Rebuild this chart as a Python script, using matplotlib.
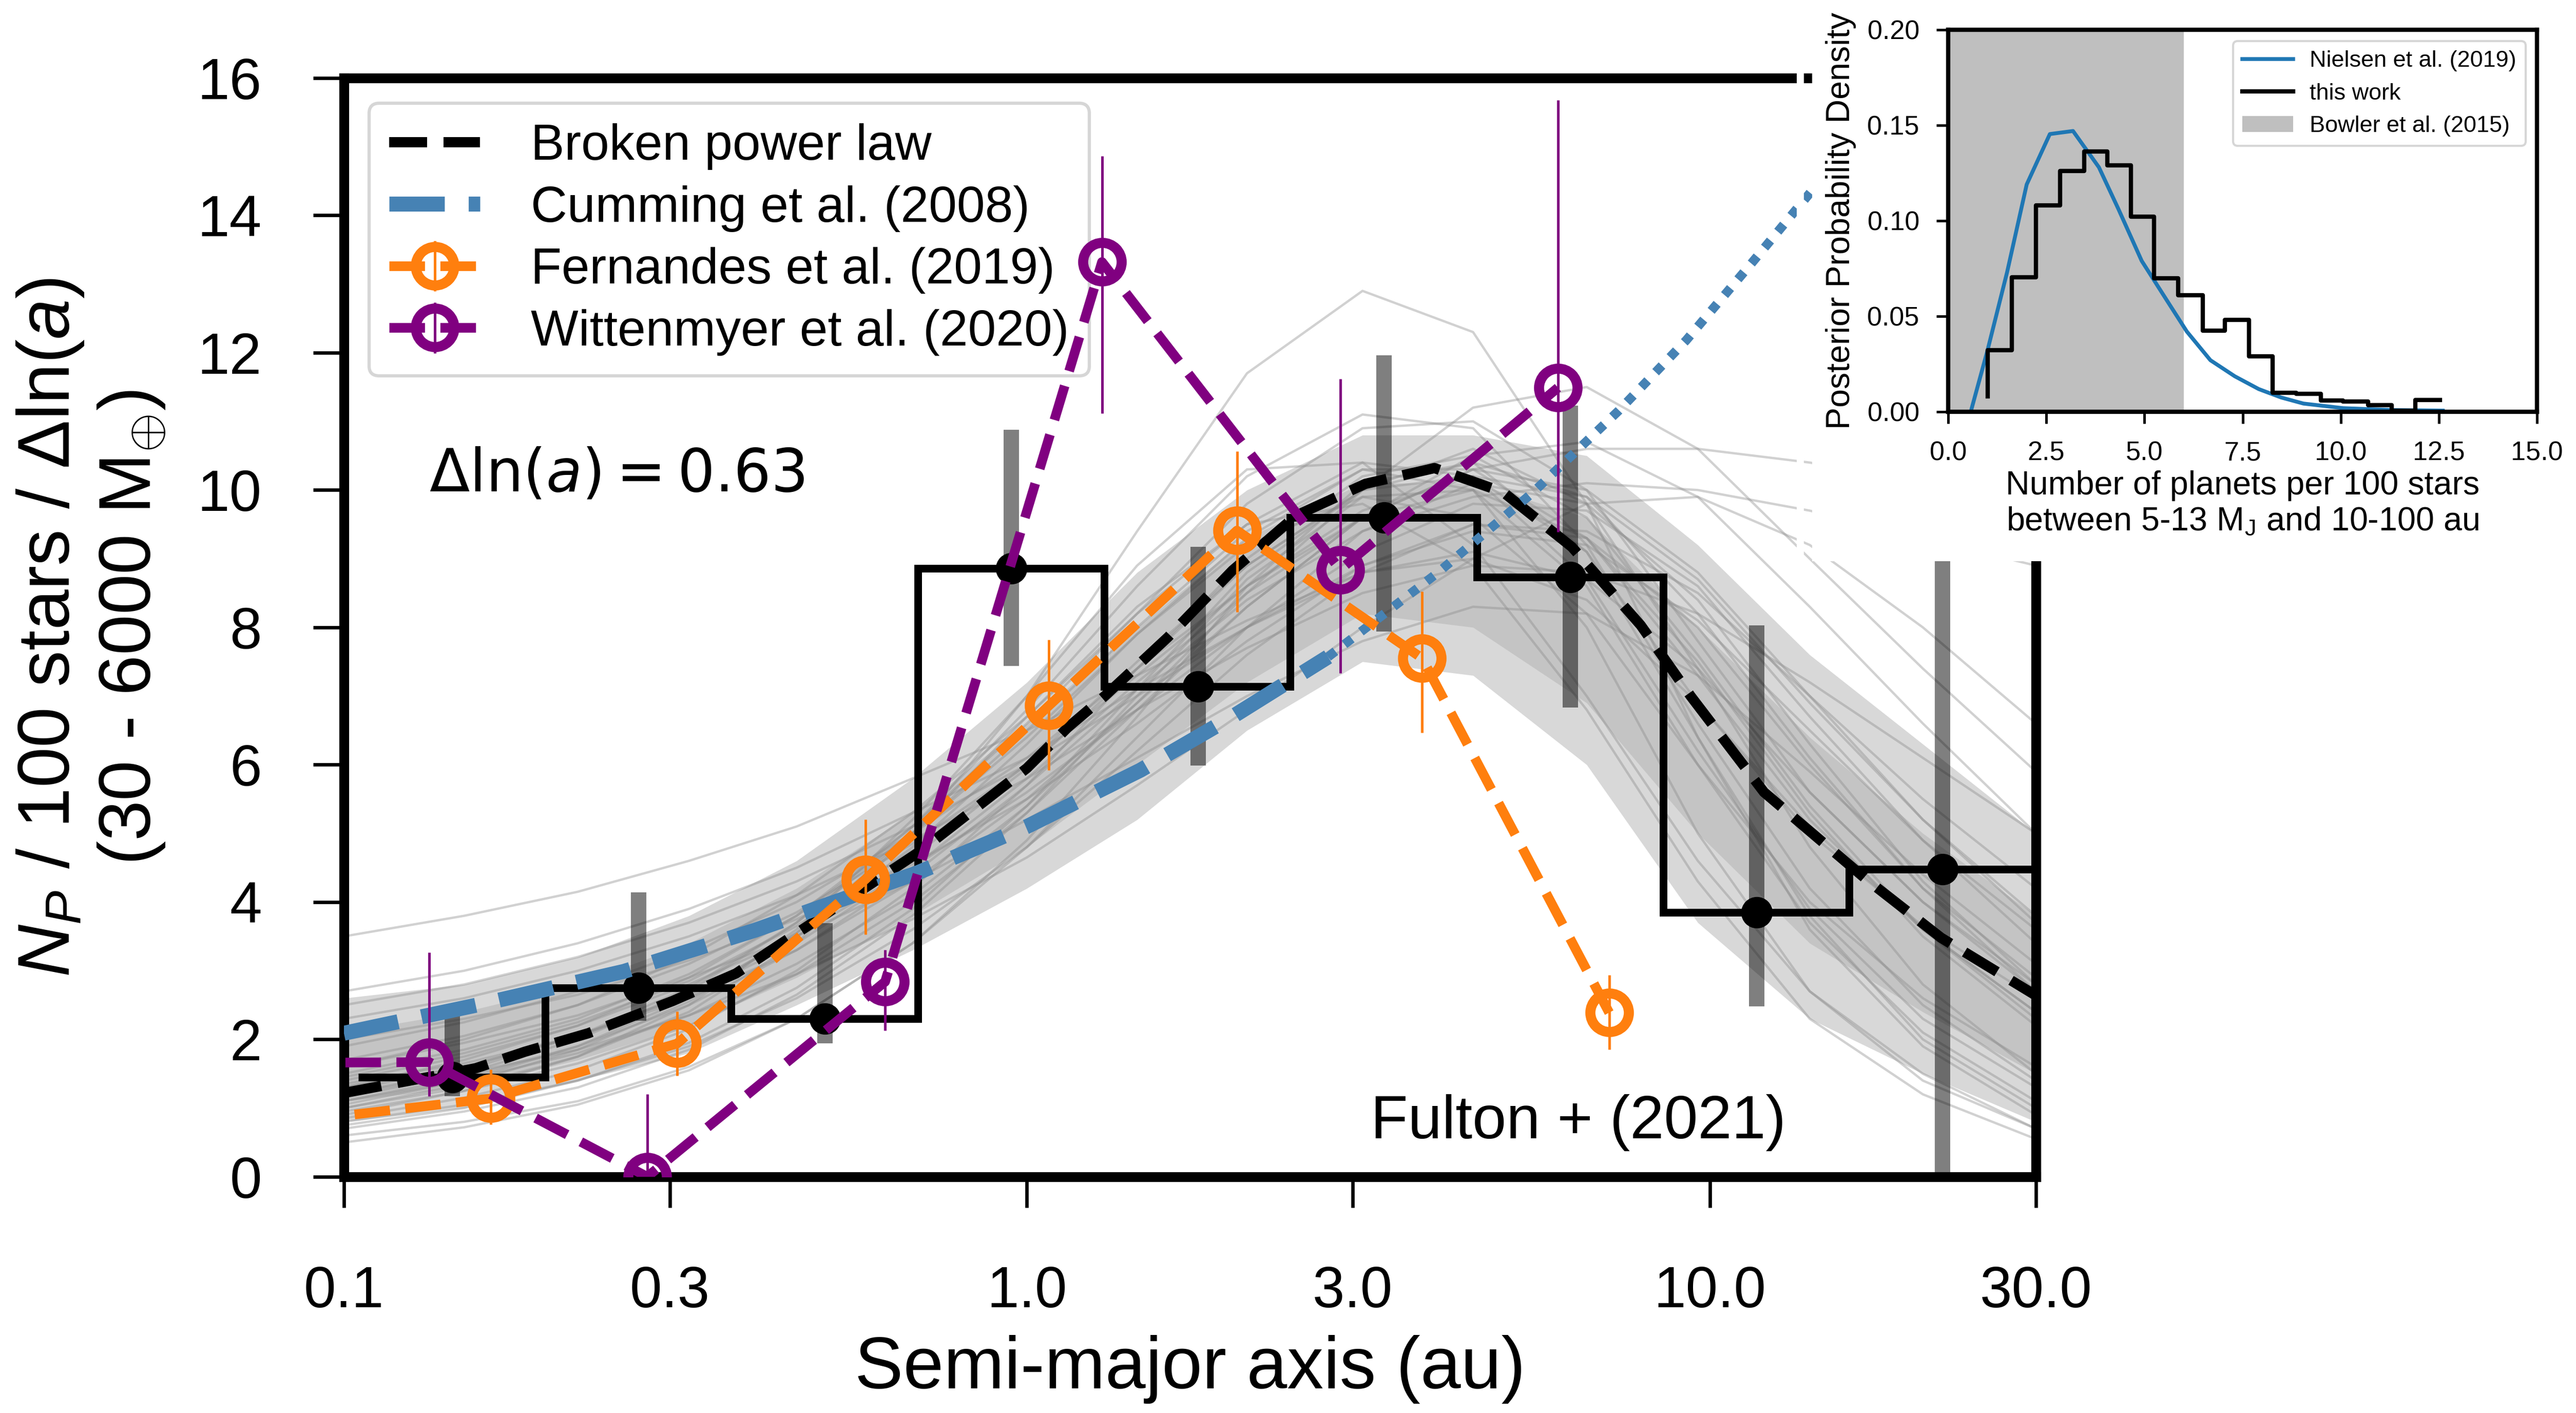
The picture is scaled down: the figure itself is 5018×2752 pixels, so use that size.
import numpy as np
import matplotlib
matplotlib.use('Agg')
import matplotlib.pyplot as plt
import matplotlib.ticker as ticker
from matplotlib.patches import Rectangle

plt.rcParams['font.family'] = ['Liberation Sans', 'DejaVu Sans']
plt.rcParams['mathtext.fontset'] = 'custom'
plt.rcParams['mathtext.rm'] = 'Liberation Sans'
plt.rcParams['mathtext.it'] = 'Liberation Sans:italic'
plt.rcParams['mathtext.bf'] = 'Liberation Sans:bold'

# this work (Fulton+ 2021), binned occurrence
bin_edges = [0.105, 0.197, 0.369, 0.692, 1.297, 2.43, 4.56, 8.55, 16.0, 30.0]
bin_mid = [0.144, 0.270, 0.506, 0.949, 1.78, 3.33, 6.25, 11.7, 21.9]
rate = [1.45, 2.75, 2.30, 8.86, 7.14, 9.60, 8.73, 3.85, 4.48]
rate_lo = [1.17, 2.27, 1.94, 7.44, 5.99, 7.94, 6.83, 2.48, 0.0]
rate_hi = [2.47, 4.14, 3.69, 10.88, 9.17, 11.96, 11.23, 8.03, 12.0]

# broken power law (median model)
bpl_x = [0.1, 0.156, 0.184, 0.228, 0.303, 0.375, 0.496, 0.7, 1.0, 1.147, 1.3, 1.61, 2.0,
         2.48, 3.13, 3.95, 4.98, 6.28, 7.92, 9.37, 12.0, 16.9, 21.8, 30.0]
bpl_y = [1.22, 1.58, 1.82, 2.09, 2.56, 2.96, 3.76, 4.75, 5.95, 6.54, 7.0, 7.86, 8.83,
         9.63, 10.09, 10.32, 9.97, 9.17, 8.03, 7.0, 5.6, 4.34, 3.48, 2.64]

# posterior draws of the model, sampled on a common grid
draw_x = [0.1, 0.15, 0.22, 0.32, 0.46, 0.68, 1.0, 1.45, 2.1, 3.1, 4.5, 6.6, 9.6, 14, 20.5, 30]
draw_curves = [
    [1.30, 1.70, 2.20, 2.90, 3.80, 5.10, 6.60, 8.20, 9.80, 10.9, 11.0, 10.0, 7.80, 5.60, 4.00, 2.80],
    [0.80, 1.05, 1.40, 1.90, 2.60, 3.60, 4.80, 6.20, 7.60, 8.80, 9.50, 9.30, 8.00, 6.00, 4.20, 2.90],
    [1.10, 1.45, 1.90, 2.50, 3.30, 4.40, 5.70, 7.10, 8.40, 9.40, 9.90, 10.1, 10.0, 9.70, 9.30, 8.90],
    [1.00, 1.30, 1.75, 2.40, 3.40, 5.00, 7.00, 9.40, 11.7, 12.9, 12.3, 9.80, 6.40, 3.60, 1.90, 0.90],
    [3.50, 3.80, 4.15, 4.60, 5.10, 5.80, 6.50, 7.30, 8.10, 8.80, 9.10, 8.70, 7.40, 5.60, 4.00, 2.70],
    [2.70, 3.00, 3.40, 3.90, 4.50, 5.30, 6.10, 7.10, 8.00, 8.80, 9.00, 8.40, 6.90, 5.10, 3.60, 2.40],
    [0.60, 0.80, 1.10, 1.60, 2.30, 3.40, 4.90, 6.70, 8.60, 10.1, 10.4, 9.10, 6.40, 3.80, 2.00, 1.00],
    [1.40, 1.75, 2.20, 2.80, 3.50, 4.50, 5.60, 6.80, 8.00, 9.10, 9.80, 9.70, 8.60, 6.70, 4.90, 3.40],
    [1.60, 1.95, 2.35, 2.90, 3.50, 4.30, 5.20, 6.10, 7.00, 7.80, 8.30, 8.20, 7.30, 5.90, 4.40, 3.10],
    [0.90, 1.25, 1.75, 2.50, 3.60, 5.20, 7.00, 8.90, 10.3, 10.4, 9.20, 7.00, 4.60, 2.70, 1.50, 0.70],
    [1.20, 1.50, 1.85, 2.35, 2.95, 3.75, 4.65, 5.70, 6.80, 8.00, 9.00, 9.80, 9.90, 9.20, 8.00, 6.60],
    [0.50, 0.72, 1.05, 1.55, 2.30, 3.40, 4.80, 6.40, 8.00, 9.40, 10.1, 9.80, 8.40, 6.30, 4.30, 2.80],
    [1.90, 2.25, 2.70, 3.30, 4.00, 5.00, 6.10, 7.40, 8.60, 9.60, 10.0, 9.30, 7.50, 5.30, 3.50, 2.20],
    [1.30, 1.60, 2.05, 2.65, 3.40, 4.50, 5.80, 7.20, 8.50, 9.60, 10.3, 10.6, 10.6, 10.4, 10.1, 9.80],
    [1.00, 1.35, 1.85, 2.55, 3.55, 5.00, 6.70, 8.30, 9.50, 9.80, 8.90, 6.80, 4.30, 2.30, 1.20, 0.55],
    [2.30, 2.60, 3.00, 3.50, 4.10, 4.90, 5.80, 6.80, 7.70, 8.50, 8.90, 8.80, 8.20, 7.20, 6.10, 5.00],
    [1.10, 1.40, 1.80, 2.35, 3.10, 4.10, 5.40, 6.90, 8.50, 10.0, 11.2, 11.5, 10.6, 9.00, 7.40, 5.90],
    [1.25, 1.60, 2.05, 2.65, 3.50, 4.65, 5.95, 7.40, 8.90, 10.0, 10.2, 9.10, 6.90, 5.00, 3.65, 2.60],
    [0.70, 0.95, 1.30, 1.85, 2.65, 3.80, 5.30, 7.00, 8.70, 9.90, 10.0, 8.60, 6.00, 3.70, 2.10, 1.10],
    [1.50, 1.85, 2.30, 2.95, 3.80, 5.00, 6.40, 7.90, 9.30, 10.3, 10.3, 9.30, 7.30, 5.20, 3.60, 2.40],
    [2.00, 2.30, 2.65, 3.15, 3.75, 4.55, 5.50, 6.60, 7.80, 8.90, 9.50, 9.40, 8.50, 7.00, 5.50, 4.20],
    [1.05, 1.40, 1.90, 2.60, 3.55, 4.80, 6.30, 7.90, 9.20, 9.90, 9.60, 8.20, 6.00, 4.00, 2.60, 1.60],
    [1.35, 1.65, 2.05, 2.60, 3.30, 4.30, 5.50, 6.90, 8.30, 9.60, 10.5, 10.7, 9.90, 8.30, 6.60, 5.00],
    [0.85, 1.15, 1.55, 2.15, 3.00, 4.20, 5.70, 7.40, 9.00, 10.2, 10.5, 9.60, 7.60, 5.40, 3.60, 2.30],
    [1.70, 2.05, 2.50, 3.10, 3.85, 4.85, 6.00, 7.30, 8.60, 9.70, 10.2, 9.90, 8.70, 6.90, 5.20, 3.80],
    [1.15, 1.50, 2.00, 2.70, 3.70, 5.10, 6.80, 8.60, 10.2, 11.1, 10.9, 9.20, 6.60, 4.20, 2.50, 1.40],
    [2.50, 2.80, 3.20, 3.70, 4.30, 5.10, 6.00, 7.00, 8.00, 8.90, 9.40, 9.20, 8.10, 6.50, 4.90, 3.60],
    [0.95, 1.25, 1.65, 2.20, 2.95, 4.00, 5.30, 6.80, 8.30, 9.60, 10.3, 10.0, 8.80, 7.00, 5.20, 3.70],
    [1.20, 1.55, 2.05, 2.75, 3.70, 5.00, 6.50, 8.00, 9.40, 10.3, 10.0, 8.00, 5.00, 2.70, 1.40, 0.70],
    [0.75, 1.00, 1.40, 1.95, 2.75, 3.90, 5.40, 7.10, 8.80, 10.0, 10.6, 9.80, 7.40, 4.80, 2.80, 1.50],
    [1.45, 1.80, 2.25, 2.85, 3.65, 4.75, 6.00, 7.50, 8.90, 10.0, 10.4, 9.90, 8.20, 6.10, 4.20, 2.70],
    [1.60, 2.00, 2.50, 3.20, 4.10, 5.30, 6.70, 8.20, 9.50, 10.4, 10.2, 8.70, 6.20, 3.90, 2.30, 1.30],
]
band_lo = [0.8, 1.0, 1.4, 1.8, 2.5, 3.3, 4.2, 5.2, 6.5, 7.5, 7.3, 6.0, 3.7, 2.3, 1.5, 0.8]
band_hi = [2.6, 2.8, 3.2, 3.8, 4.6, 5.8, 7.2, 8.8, 10.0, 10.8, 10.8, 10.5, 9.2, 7.6, 6.3, 5.0]
core_lo = [1.1, 1.3, 1.7, 2.2, 2.9, 3.8, 4.8, 6.0, 7.2, 8.2, 8.0, 6.9, 5.0, 3.4, 2.4, 1.5]
core_hi = [2.1, 2.4, 2.8, 3.4, 4.2, 5.3, 6.6, 8.0, 9.3, 10.1, 10.1, 9.6, 8.0, 6.4, 5.0, 3.8]

# Cumming et al. (2008): fitted range and extrapolation
cum_x = [0.1, 0.16, 0.257, 0.4, 0.693, 1.0, 1.466, 2.0, 2.76]
cum_y = [2.09, 2.52, 2.99, 3.59, 4.43, 5.1, 5.92, 6.7, 7.57]
cum_ext_x = [2.76, 4.0, 5.5, 7.36, 9.23, 11.5, 14.16, 20.0, 30.0]
cum_ext_y = [7.57, 8.8, 9.96, 11.16, 12.18, 13.3, 14.38, 16.5, 19.3]

# Fernandes et al. (2019)
fer_x = [0.0874, 0.164, 0.3076, 0.58, 1.077, 2.03, 3.79, 7.12]
fer_y = [0.82, 1.14, 1.94, 4.33, 6.86, 9.41, 7.55, 2.39]
fer_lo = [0.60, 0.76, 1.47, 3.53, 5.92, 8.22, 6.47, 1.85]
fer_hi = [1.05, 1.56, 2.41, 5.20, 7.82, 10.56, 8.52, 2.94]

# Wittenmyer et al. (2020)
wit_x = [0.06, 0.1333, 0.278, 0.62, 1.288, 2.875, 5.99]
wit_y = [1.65, 1.67, 0.0, 2.84, 13.32, 8.84, 11.49]
wit_lo = [1.20, 1.17, 0.0, 2.13, 11.12, 7.33, 9.39]
wit_hi = [3.20, 3.27, 1.20, 3.30, 14.86, 11.62, 15.68]

# inset: planets per 100 stars, 5-13 MJ, 10-100 au
nie_x = [0.575, 1.0, 1.5, 2.0, 2.59, 3.18, 3.84, 4.34, 4.93, 5.55, 6.08, 6.68, 7.3, 7.91,
         8.48, 9.05, 10.06, 11.33, 12.6]
nie_y = [0.0, 0.032, 0.073, 0.119, 0.1454, 0.147, 0.128, 0.106, 0.079, 0.059, 0.042, 0.027,
         0.0186, 0.0119, 0.0075, 0.0043, 0.0019, 0.0009, 0.0006]
post_edges = [1.01, 1.62, 2.24, 2.85, 3.46, 4.05, 4.65, 5.25, 5.86, 6.49, 7.05, 7.66, 8.27,
              8.86, 9.49, 10.06, 10.70, 11.30, 11.90, 12.53]
post_vals = [0.008, 0.0323, 0.0704, 0.108, 0.126, 0.1364, 0.1289, 0.1021, 0.0698, 0.0609,
             0.0426, 0.0481, 0.0289, 0.0100, 0.0094, 0.0058, 0.0055, 0.0034, 0.0006, 0.0062]
bowler_hi = 6.0

fig = plt.figure(figsize=(5018 / 300, 2752 / 300), dpi=300)
ax = fig.add_axes([0.1335, 0.1672, 0.6568, 0.7776])

# model draws
ax.fill_between(draw_x, band_lo, band_hi, color='0.5', alpha=0.3, lw=0, zorder=0.9)
ax.fill_between(draw_x, core_lo, core_hi, color='0.5', alpha=0.22, lw=0, zorder=0.9)
for curve in draw_curves:
    ax.plot(draw_x, curve, color='0.55', alpha=0.4, lw=1.1, zorder=1)

# this work
ax.vlines(bin_mid, rate_lo, rate_hi, color='k', alpha=0.5, lw=7.2, zorder=2)
ax.stairs(rate, bin_edges, color='k', lw=3.6, baseline=None, zorder=3)
ax.plot(bin_mid, rate, 'o', color='k', ms=13.7, zorder=3.5)

l_bpl, = ax.plot(bpl_x, bpl_y, '--', color='k', lw=4.8, zorder=4, label='Broken power law')
l_cum, = ax.plot(cum_x, cum_y, '--', color='steelblue', lw=7, zorder=4.5,
                 label='Cumming et al. (2008)')
ax.plot(cum_ext_x, cum_ext_y, color='steelblue', lw=4.3, ls=(0, (1, 1.25)), zorder=4.5)

fer = ax.errorbar(fer_x, fer_y, yerr=[np.subtract(fer_y, fer_lo), np.subtract(fer_hi, fer_y)],
                  fmt='o--', color='#ff7f0e', mfc='none', ms=18, mew=4.7, lw=4.5,
                  elinewidth=1.2, zorder=6, label='Fernandes et al. (2019)')
wit = ax.errorbar(wit_x, wit_y, yerr=[np.subtract(wit_y, wit_lo), np.subtract(wit_hi, wit_y)],
                  fmt='o--', color='purple', mfc='none', ms=18, mew=4.7, lw=4.5,
                  elinewidth=1.2, zorder=6.5, label='Wittenmyer et al. (2020)')

leg = ax.legend(handles=[l_bpl, l_cum, fer, wit], loc='upper left', fontsize=23.6,
                labelspacing=0.3, handlelength=1.8, handletextpad=1.0)
leg.get_frame().set_linewidth(1.5)

ax.text(0.0504, 0.624, r'$\Delta \ln(a) = 0.63$', transform=ax.transAxes, fontsize=27.5,
        math_fontfamily='dejavusans')
ax.text(0.607, 0.035, 'Fulton + (2021)', transform=ax.transAxes, fontsize=28.5)

ax.set_xscale('log')
ax.set_xlim(0.1, 30)
ax.set_ylim(0, 16)
ax.set_xticks([0.1, 0.3, 1, 3, 10, 30])
ax.set_xticklabels(['0.1', '0.3', '1.0', '3.0', '10.0', '30.0'])
ax.xaxis.set_minor_locator(ticker.NullLocator())
ax.set_yticks([0, 2, 4, 6, 8, 10, 12, 14, 16])
ax.tick_params(direction='out', length=14.4, width=1.6, labelsize=27)
ax.tick_params(axis='x', pad=27)
ax.tick_params(axis='y', pad=24)
for s in ax.spines.values():
    s.set_linewidth(4.6)
ax.set_xlabel('Semi-major axis (au)', fontsize=34, labelpad=7)
ax.set_ylabel('$N_P$ / 100 stars / $\\Delta$ln($a$)\n(30 - 6000 M$_{\\oplus}$)',
              fontsize=34, labelpad=14)

# white panel behind the inset
fig.add_artist(Rectangle((0.70347, 0.60283), 0.3, 0.4, transform=fig.transFigure,
                         facecolor='white', edgecolor='none', zorder=1))
fig.add_artist(Rectangle((0.69749, 0.60283), 0.00279, 0.4, transform=fig.transFigure,
                         facecolor='white', edgecolor='none', zorder=1))

# inset
ax2 = fig.add_axes([0.75628, 0.70858, 0.22858, 0.27035])
ax2.set_zorder(2)
span = ax2.axvspan(0, bowler_hi, color='gray', alpha=0.5, lw=0, label='Bowler et al. (2015)')
l_n, = ax2.plot(nie_x, nie_y, color='#1f77b4', lw=1.8, label='Nielsen et al. (2019)')
l_t, = ax2.step(post_edges, post_vals, where='pre', color='k', lw=2.0, label='this work')
ax2.set_xlim(0, 15)
ax2.set_ylim(0, 0.2)
ax2.set_xticks([0, 2.5, 5, 7.5, 10, 12.5, 15])
ax2.set_yticks([0, 0.05, 0.10, 0.15, 0.20])
ax2.tick_params(direction='out', length=5.5, width=1.2, labelsize=12.5, pad=8)
for s in ax2.spines.values():
    s.set_linewidth(2.0)
ax2.set_ylabel('Posterior Probability Density', fontsize=15.5, labelpad=5)
ax2.set_xlabel('Number of planets per 100 stars\nbetween 5-13 M$_{\\rm J}$ and 10-100 au',
               fontsize=15.5, labelpad=2)
ax2.legend(handles=[l_n, l_t, span], loc='upper right', fontsize=10.8, labelspacing=0.5,
           handlelength=2.2, handletextpad=0.7, borderpad=0.4)

fig.savefig('out.png', dpi=300)
